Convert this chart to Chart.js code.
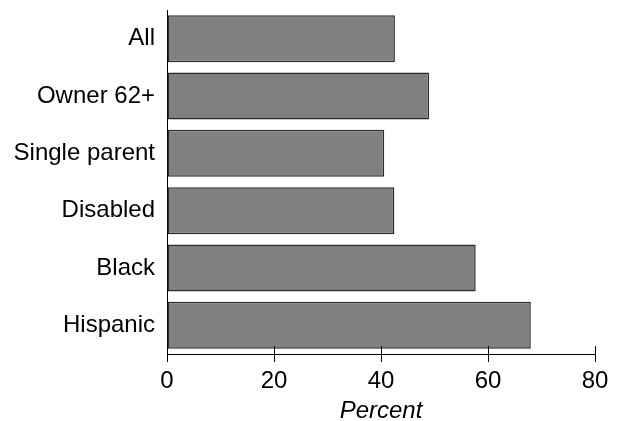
<!DOCTYPE html>
<html>
<head>
<meta charset="utf-8">
<script src="https://cdn.jsdelivr.net/npm/chart.js@4.4.1/dist/chart.umd.min.js"></script>
<style>
  html, body { margin: 0; padding: 0; background: #fff; }
  #wrap { width: 618px; height: 421px; }
</style>
</head>
<body>
<div id="wrap"><canvas id="myChart" width="618" height="421"></canvas></div>
<script>
var groups = ['All', 'Owner 62+', 'Single parent', 'Disabled', 'Black', 'Hispanic'];
var percents = [42.6, 49.0, 40.6, 42.5, 57.7, 68.0];
var xTicks = [0, 20, 40, 60, 80];

// upper half of the x ticks (chart.js only draws them outside the area)
var innerTicks = {
    id: 'innerTicks',
    afterDraw: function(chart) {
        var x = chart.scales.x;
        var c = chart.ctx;
        c.save();
        c.strokeStyle = '#000';
        c.lineWidth = 1;
        c.beginPath();
        for (var i = 0; i < xTicks.length; i++) {
            var px = Math.round(x.getPixelForValue(xTicks[i])) + 0.5;
            c.moveTo(px, x.top);
            c.lineTo(px, x.top - 8);
        }
        c.stroke();
        c.restore();
    }
};

Chart.defaults.font.family = '"Liberation Sans", Arial, sans-serif';
Chart.defaults.color = '#000';

var ctx = document.getElementById('myChart').getContext('2d');
var chart = new Chart(ctx, {
    type: 'bar',
    data: {
        labels: groups,
        datasets: [{
            data: percents,
            backgroundColor: '#808080',
            borderColor: '#2a2a2a',
            borderWidth: 1.5,
            borderSkipped: false,
            categoryPercentage: 1,
            barPercentage: 0.82
        }]
    },
    options: {
        indexAxis: 'y',
        responsive: false,
        animation: false,
        layout: {
            padding: { top: 10, right: 23, left: 0, bottom: 0 }
        },
        plugins: {
            legend: { display: false },
            tooltip: { enabled: false }
        },
        scales: {
            x: {
                min: 0,
                max: 80,
                afterBuildTicks: function(axis) {
                    axis.ticks = xTicks.map(function(v) { return { value: v }; });
                },
                grid: {
                    drawOnChartArea: false,
                    tickLength: 8,
                    color: '#000'
                },
                border: { color: '#000', width: 1 },
                ticks: {
                    font: { size: 24 },
                    padding: 5,
                    maxRotation: 0
                },
                title: {
                    display: true,
                    text: 'Percent',
                    font: { size: 24, style: 'italic' },
                    padding: { top: 0, bottom: -5 }
                },
                afterFit: function(axis) { axis.height = 67; }
            },
            y: {
                grid: { display: false, drawTicks: false },
                border: { color: '#000', width: 1 },
                ticks: {
                    font: { size: 24 },
                    padding: 12
                },
                afterFit: function(axis) {
                    axis.width = 167;
                    axis.paddingTop = 0;
                    axis.paddingBottom = 0;
                }
            }
        }
    },
    plugins: [innerTicks]
});
</script>
</body>
</html>
